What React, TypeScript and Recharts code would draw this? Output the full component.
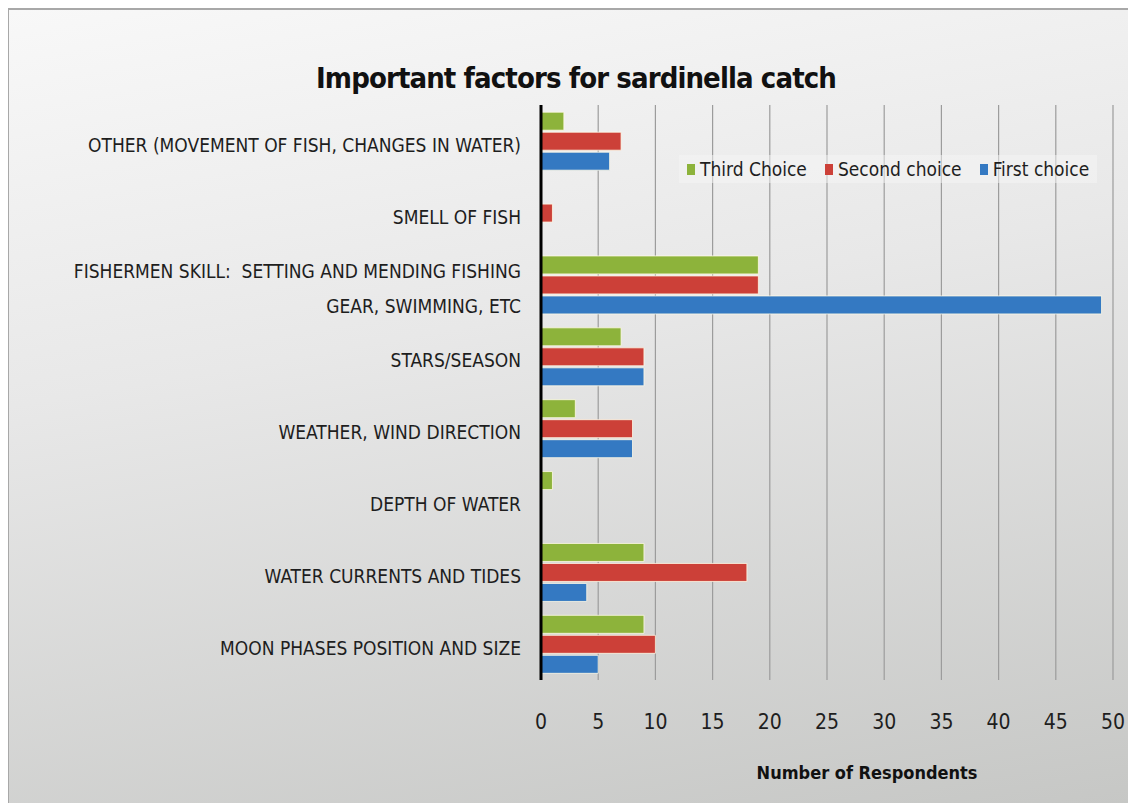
import React from 'react';
import { BarChart, Bar, XAxis, YAxis, CartesianGrid, Legend, Label } from 'recharts';

// categories top -> bottom, "\n" marks a line break in the tick label
const categories = [
  'OTHER (MOVEMENT OF FISH, CHANGES IN WATER)',
  'SMELL OF FISH',
  'FISHERMEN SKILL:  SETTING AND MENDING FISHING\nGEAR, SWIMMING, ETC',
  'STARS/SEASON',
  'WEATHER, WIND DIRECTION',
  'DEPTH OF WATER',
  'WATER CURRENTS AND TIDES',
  'MOON PHASES POSITION AND SIZE',
];

const thirdChoice = [2, 0, 19, 7, 3, 1, 9, 9];
const secondChoice = [7, 1, 19, 9, 8, 0, 18, 10];
const firstChoice = [6, 0, 49, 9, 8, 0, 4, 5];

const xTicks = [0, 5, 10, 15, 20, 25, 30, 35, 40, 45, 50];

const seriesInfo = [
  { key: 'third', name: 'Third Choice', color: '#8db33b' },
  { key: 'second', name: 'Second choice', color: '#cc4038' },
  { key: 'first', name: 'First choice', color: '#3479c2' },
];

const FONT = '"DejaVu Sans Condensed", "Open Sans", sans-serif';

const CategoryTick = (props: any) => {
  const { x, y, payload } = props;
  const lines: string[] = String(payload.value).split('\n');
  const lineH = 35;
  const start = y + 4 - ((lines.length - 1) * lineH) / 2;
  return (
    <text
      x={x}
      y={start}
      textAnchor="end"
      fill="#1e1e1e"
      fontSize={19}
      fontFamily={FONT}
      style={{ whiteSpace: 'pre' }}
    >
      {lines.map((l, i) => (
        <tspan key={i} x={x} y={start + i * lineH} dy="0.36em">
          {l}
        </tspan>
      ))}
    </text>
  );
};

const LegendContent = () => (
  <div style={{ display: 'flex', alignItems: 'center', fontFamily: FONT, fontSize: 19, color: '#1e1e1e' }}>
    {seriesInfo.map((s, i) => (
      <div key={s.key} style={{ display: 'flex', alignItems: 'center', marginRight: i < 2 ? 18 : 0 }}>
        <span style={{ width: 8, height: 11, background: s.color, display: 'inline-block', marginRight: 5 }} />
        <span>{s.name}</span>
      </div>
    ))}
  </div>
);

export default function App() {
  const data = categories.map((c, i) => ({
    name: c,
    third: thirdChoice[i],
    second: secondChoice[i],
    first: firstChoice[i],
  }));

  return (
    <div
      style={{
        position: 'relative',
        width: 1126,
        height: 793,
        border: '1px solid #a8a8a8',
        borderTop: '2px solid #a8a8a8',
        background: 'linear-gradient(170deg, #f8f8f8 0%, #e8e8e8 40%, #c6c7c5 100%)',
        fontFamily: FONT,
      }}
    >
      <span
        style={{
          position: 'absolute',
          left: 567,
          top: 50,
          transform: 'translateX(-50%)',
          whiteSpace: 'nowrap',
          fontWeight: 'bold',
          fontSize: 29,
          letterSpacing: -0.9,
          color: '#111',
          lineHeight: '36px',
        }}
      >
        Important factors for sardinella catch
      </span>
      <BarChart
        width={1126}
        height={793}
        data={data}
        layout="vertical"
        margin={{ top: 95, right: 22, left: 0, bottom: 73 }}
        barCategoryGap="10%"
        barGap={2}
      >
        <CartesianGrid horizontal={false} vertical stroke="#9c9c9c" strokeWidth={1.2} />
        <XAxis
          type="number"
          domain={[0, 50]}
          ticks={xTicks}
          axisLine={false}
          tickLine={false}
          tickSize={0}
          tickMargin={34}
          height={50}
          tick={{ fontSize: 21, fill: '#1e1e1e', fontFamily: FONT }}
        >
          <Label
            value="Number of Respondents"
            position="bottom"
            offset={36}
            dx={40}
            style={{ fontSize: 18, fontWeight: 'bold', fill: '#111', fontFamily: FONT }}
          />
        </XAxis>
        <YAxis
          type="category"
          dataKey="name"
          width={532}
          axisLine={{ stroke: '#000', strokeWidth: 3 }}
          tickLine={false}
          tickSize={0}
          tickMargin={20}
          interval={0}
          tick={<CategoryTick />}
        />
        <Legend
          verticalAlign="middle"
          align="center"
          layout="horizontal"
          content={<LegendContent />}
          wrapperStyle={{
            position: 'absolute',
            top: 145,
            left: 670,
            width: 'auto',
            padding: '0 8px',
            background: 'rgba(245,245,245,0.5)',
            lineHeight: '28px',
          }}
        />
        {seriesInfo.map((s) => (
          <Bar
            key={s.key}
            dataKey={s.key}
            name={s.name}
            fill={s.color}
            stroke="rgba(255,250,230,0.8)"
            strokeWidth={1}
            isAnimationActive={false}
          />
        ))}
      </BarChart>
    </div>
  );
}
